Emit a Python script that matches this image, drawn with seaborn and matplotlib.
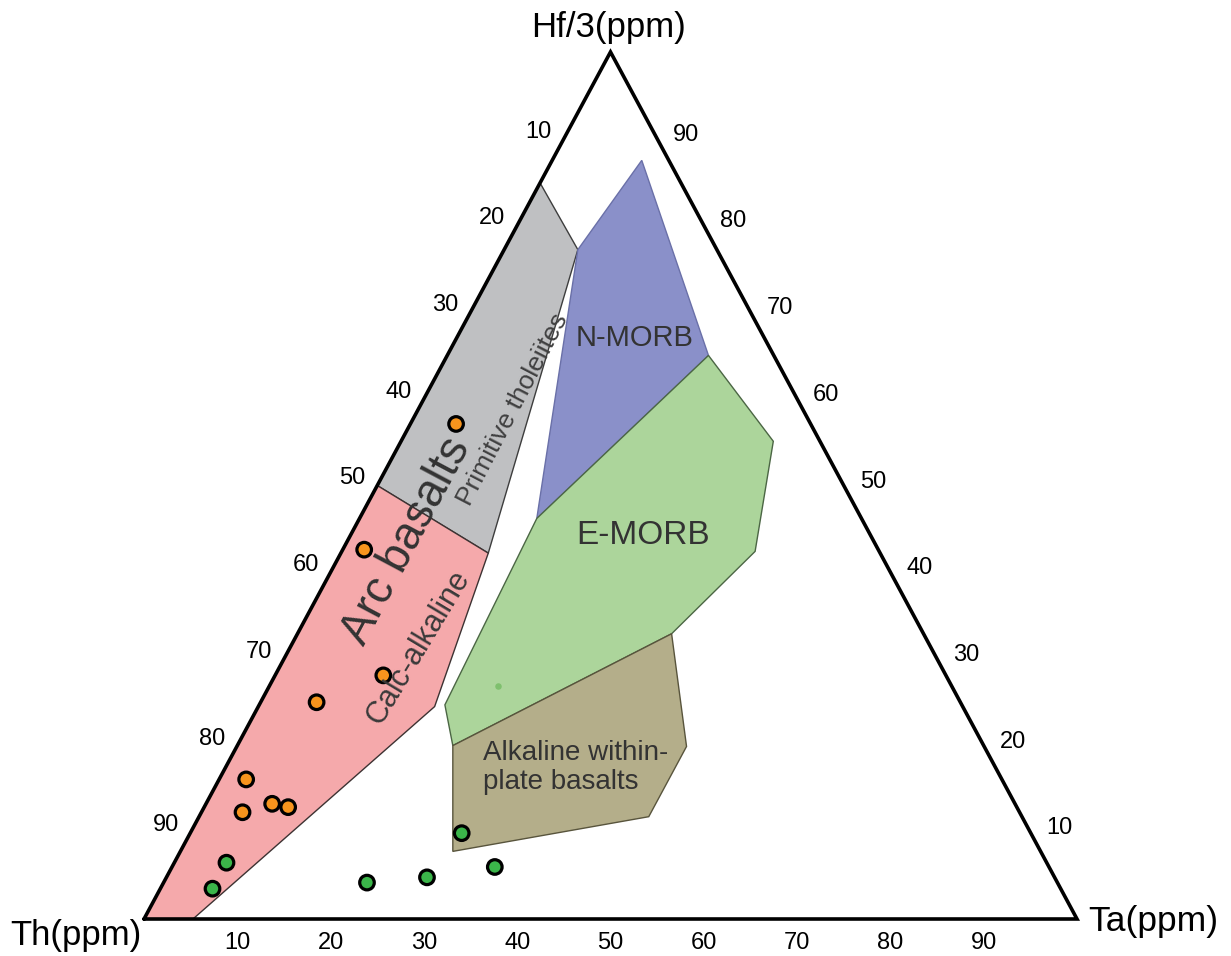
import matplotlib
matplotlib.use("Agg")
import matplotlib.pyplot as plt
from matplotlib.patches import Polygon
import numpy as np
import pandas as pd
import seaborn as sns

# ---- field boundaries, compositions in % (Th, Ta, Hf/3) ----
prim_tholeiites = [(15.1, 0.0, 84.9), (14.9, 7.9, 77.2), (42.0, 15.8, 42.2), (50.0, 0.0, 50.0)]
calc_alkaline = [(100.0, 0.0, 0.0), (50.0, 0.0, 50.0), (42.0, 15.8, 42.2),
                 (56.6, 18.9, 24.5), (94.75, 5.25, 0.0)]
n_morb = [(2.9, 9.6, 87.5), (14.9, 7.9, 77.2), (34.8, 19.0, 46.2), (7.0, 28.0, 65.0)]
e_morb = [(7.0, 28.0, 65.0), (5.0, 39.9, 55.1), (13.3, 44.3, 42.4), (27.0, 40.1, 32.9),
          (56.9, 23.1, 20.0), (55.4, 19.9, 24.7), (34.8, 19.0, 46.2)]
alkaline_wpb = [(27.0, 40.1, 32.9), (31.9, 48.2, 19.9), (40.0, 48.2, 11.8),
                (63.0, 29.2, 7.8), (56.9, 23.1, 20.0)]

# ---- samples (%): Th, Ta, Hf/3 ----
orange_th = [38.0, 55.1, 60.3, 69.0, 81.0, 83.2, 79.7, 78.1]
orange_ta = [4.9, 2.3, 11.6, 6.0, 2.9, 4.4, 7.1, 9.0]
orange_hf = [57.1, 42.6, 28.1, 25.0, 16.1, 12.3, 13.3, 12.9]

green_th = [88.0, 91.0, 74.0, 67.2, 59.4, 61.0]
green_ta = [5.6, 5.6, 21.8, 27.9, 34.6, 29.1]
green_hf = [6.5, 3.5, 4.2, 4.8, 6.0, 9.9]

speck_th = [48.6]
speck_ta = [24.5]
speck_hf = [26.9]

tick_values = [10, 20, 30, 40, 50, 60, 70, 80, 90]
apex_labels = ["Th(ppm)", "Ta(ppm)", "Hf/3(ppm)"]


def tern_xy(th, ta, hf):
    th, ta, hf = (np.asarray(v, dtype=float) for v in (th, ta, hf))
    tot = th + ta + hf
    return (ta + hf / 2.0) / tot, hf / tot


sns.set_style("white")
plt.rcParams["font.family"] = ["Liberation Sans", "DejaVu Sans"]
plt.rcParams["text.color"] = "black"

W, H = 1231, 956
fig = plt.figure(figsize=(W / 100, H / 100), dpi=100)
fig.patch.set_facecolor("white")
ax = fig.add_axes([144 / W, 37 / H, 933 / W, 867 / H])
ax.set_xlim(0, 1)
ax.set_ylim(0, 1)
ax.axis("off")

# ---- fields ----
field_styles = [
    (prim_tholeiites, "#bfc0c2", "#3d3d3d"),
    (calc_alkaline, "#f5a9ab", "#3d3232"),
    (n_morb, "#8a90c9", "#6a70a8"),
    (e_morb, "#acd59b", "#4b6644"),
    (alkaline_wpb, "#b4ae8a", "#58543c"),
]
for verts, fc, ec in field_styles:
    th, ta, hf = zip(*verts)
    x, y = tern_xy(th, ta, hf)
    ax.add_patch(Polygon(np.column_stack([x, y]), closed=True, facecolor=fc,
                         edgecolor=ec, linewidth=1.0, zorder=1))

# ---- triangle frame ----
fx, fy = tern_xy([100, 0, 0, 100], [0, 100, 0, 0], [0, 0, 100, 0])
ax.plot(fx, fy, color="black", lw=2.6, solid_joinstyle="miter", zorder=3, clip_on=False)

# ---- samples ----
ox, oy = tern_xy(orange_th, orange_ta, orange_hf)
gx, gy = tern_xy(green_th, green_ta, green_hf)
sx, sy = tern_xy(speck_th, speck_ta, speck_hf)
samples = pd.DataFrame({
    "x": np.concatenate([ox, gx]),
    "y": np.concatenate([oy, gy]),
    "group": ["orange"] * len(ox) + ["green"] * len(gx),
})
sns.scatterplot(data=samples, x="x", y="y", hue="group",
                palette={"orange": "#f7941d", "green": "#3bb54a"},
                s=110, edgecolor="black", linewidth=2.3, legend=False,
                ax=ax, zorder=5, clip_on=False)
sns.scatterplot(x=sx, y=sy, color="#7fc06e", s=22, linewidth=0, ax=ax, zorder=2)

# ---- tick labels ----
for v in tick_values:
    # bottom edge: Ta
    bx, by = tern_xy(100 - v, v, 0)
    ax.annotate(str(v), (bx, by), xytext=(0, -24), textcoords="offset pixels",
                ha="center", va="center", fontsize=17, annotation_clip=False)
    # left edge: Th
    lx, ly = tern_xy(v, 0, 100 - v)
    ax.annotate(str(v), (lx, ly), xytext=(-25, 7), textcoords="offset pixels",
                ha="center", va="center", fontsize=17, annotation_clip=False)
    # right edge: Hf/3
    rx, ry = tern_xy(0, 100 - v, v)
    ax.annotate(str(v), (rx, ry), xytext=(29, 4), textcoords="offset pixels",
                ha="center", va="center", fontsize=17, annotation_clip=False)

# ---- apex labels ----
fig.text(76 / W, 1 - 935 / H, apex_labels[0], ha="center", va="center", fontsize=25)
fig.text(1153 / W, 1 - 922 / H, apex_labels[1], ha="center", va="center", fontsize=25.5)
fig.text(608 / W, 1 - 28 / H, apex_labels[2], ha="center", va="center", fontsize=25)

# ---- field labels ----
txt = "#333333"
ax.text(0.5263, 0.6701, "N-MORB", ha="center", va="center", fontsize=21, color=txt, zorder=6)
ax.text(0.5348, 0.4429, "E-MORB", ha="center", va="center", fontsize=24, color=txt, zorder=6)
ax.text(0.3633, 0.1749, "Alkaline within-\nplate basalts", ha="left", va="center",
        fontsize=20, color=txt, linespacing=1.12, zorder=6)
ax.text(0.3955, 0.5882, "Primitive tholeiites", ha="center", va="center",
        rotation=62.5, rotation_mode="anchor", fontsize=19, color="#404040", zorder=6)
ax.text(0.2937, 0.3137, "Calc-alkaline", ha="center", va="center",
        rotation=59, rotation_mode="anchor", fontsize=22, color="#3a3a3a", zorder=6)
ax.text(0.2819, 0.4360, "Arc basalts", ha="center", va="center",
        rotation=62, rotation_mode="anchor", fontsize=33, color="#333333", zorder=6)

fig.savefig("out.png", dpi=100)
